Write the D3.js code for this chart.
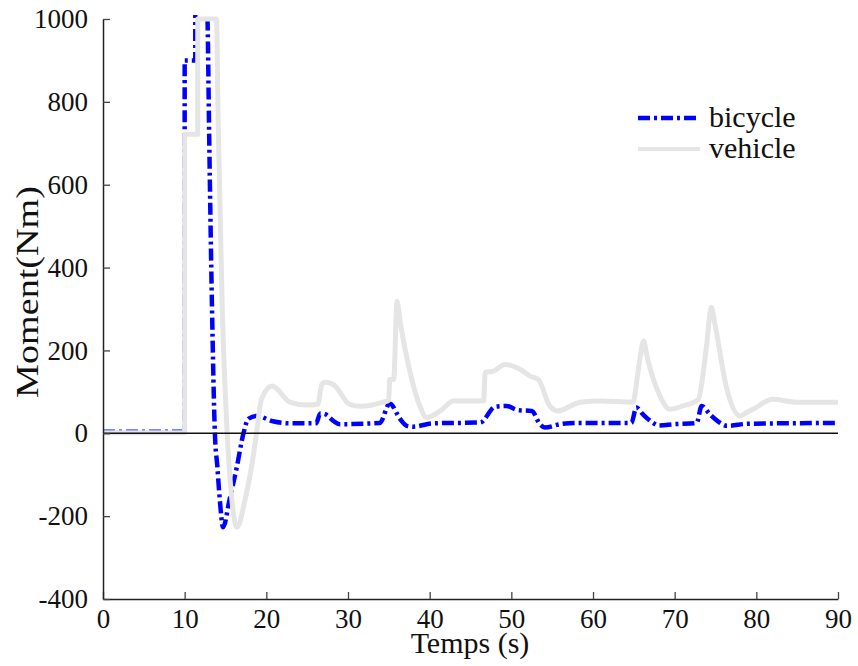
<!DOCTYPE html>
<html>
<head>
<meta charset="utf-8">
<script src="https://cdn.jsdelivr.net/npm/d3@7/dist/d3.min.js"></script>
<style>
  html, body { margin: 0; padding: 0; background: #fff; }
  svg text { font-family: "Liberation Serif", "DejaVu Serif", serif; fill: #111; }
</style>
</head>
<body>
<svg id="chart" width="858" height="666"></svg>
<script>
// ---- data ----
const bicycleT = [0, 10, 10, 11.3, 11.3, 12.6, 12.8, 13.0, 13.35, 13.7, 14.0, 14.3, 14.7, 15.5, 16.4, 17.2, 17.8, 18.8, 20.8, 22.9, 26.1, 26.6, 27.2, 28.2, 29.0, 33.9, 35.1, 36.4, 37.2, 38.0, 40.4, 46.2, 48.0, 49.4, 50.8, 52.5, 53.5, 54.1, 56.0, 58.0, 64.7, 65.3, 66.1, 67.3, 68.0, 70.0, 72.7, 73.3, 74.3, 75.5, 76.4, 79.0, 90];
const bicycleV = [4, 4, 900, 900, 1100, 1100, 1000, 720, 300, 0, -80, -160, -227, -160, -80, 0, 35, 42, 29, 24, 24, 48, 46, 30, 22, 25, 72, 34, 18, 16, 24, 26, 64, 66, 56, 54, 22, 14, 22, 25, 25, 62, 46, 26, 19, 22, 25, 66, 46, 26, 18, 23, 25];

const vehicleT = [0, 10, 10, 11.6, 11.6, 13.9, 14.1, 14.6, 15.2, 15.6, 16.4, 17.4, 18.2, 18.8, 19.4, 20.7, 22.9, 24.9, 26.3, 26.8, 27.2, 28.2, 30.2, 31.5, 34.3, 35.0, 35.1, 35.6, 36.0, 36.4, 37.6, 38.8, 39.6, 41.3, 42.9, 46.6, 46.8, 47.8, 49.2, 51.1, 52.3, 53.3, 54.7, 55.7, 58.4, 60.9, 64.9, 65.5, 65.8, 66.2, 66.6, 68.2, 69.4, 71.0, 72.9, 73.5, 73.9, 74.5, 74.9, 76.4, 78.0, 78.8, 79.6, 82.0, 84.9, 90];
const vehicleV = [1, 1, 722, 722, 1000, 1000, 750, 300, 0, -120, -227, -160, -80, 0, 82, 114, 75, 68, 70, 118, 123, 118, 70, 65, 75, 80, 130, 130, 319, 267, 147, 66, 38, 54, 78, 78, 147, 150, 166, 154, 138, 130, 66, 54, 75, 78, 75, 147, 187, 223, 187, 90, 58, 66, 82, 147, 211, 304, 267, 106, 42, 50, 58, 82, 75, 75];

const xTicks = [0, 10, 20, 30, 40, 50, 60, 70, 80, 90];
const yTicks = [-400, -200, 0, 200, 400, 600, 800, 1000];
const seriesNames = ["bicycle", "vehicle"];
const xLabel = "Temps (s)";
const yLabel = "Moment(Nm)";

// ---- layout ----
const svg = d3.select("#chart");
const mLeft = 103, mRight = 838, mTop = 19, mBottom = 599;

const x = d3.scaleLinear().domain([0, 90]).range([mLeft, mRight]);
const y = d3.scaleLinear().domain([-400, 1000]).range([mBottom, mTop]);

svg.append("defs").append("clipPath").attr("id", "clip")
  .append("rect").attr("x", mLeft).attr("y", mTop - 4).attr("width", mRight - mLeft + 4).attr("height", mBottom - mTop + 4);

const line = d3.line().x(d => x(d[0])).y(d => y(d[1])).curve(d3.curveMonotoneX);
const bData = bicycleT.map((t, i) => [t, bicycleV[i]]);
const vData = vehicleT.map((t, i) => [t, vehicleV[i]]);

const g = svg.append("g").attr("clip-path", "url(#clip)");
g.append("path").datum(bData).attr("d", line)
  .attr("fill", "none").attr("stroke", "#0000ff").attr("stroke-width", 4.5)
  .attr("stroke-dasharray", "12,4,3,4");
g.append("path").datum(vData).attr("d", line)
  .attr("fill", "none").attr("stroke", "#e5e5e5").attr("stroke-width", 5)
  .attr("stroke-linejoin", "round");

// zero line
svg.append("line").attr("x1", mLeft).attr("x2", mRight).attr("y1", y(0)).attr("y2", y(0))
  .attr("stroke", "#111").attr("stroke-width", 1.5);

// axes
const fmt = d => String(d);
const xAxis = svg.append("g").attr("transform", `translate(0,${mBottom})`)
  .call(d3.axisBottom(x).tickValues(xTicks).tickSize(-7).tickSizeOuter(0).tickPadding(10).tickFormat(fmt));
const yAxis = svg.append("g").attr("transform", `translate(${mLeft},0)`)
  .call(d3.axisLeft(y).tickValues(yTicks).tickSize(-7).tickSizeOuter(0).tickPadding(15).tickFormat(fmt));
[xAxis, yAxis].forEach(a => {
  a.selectAll("path.domain").attr("stroke", "#222").attr("stroke-width", 1.5);
  a.selectAll(".tick line").attr("stroke", "#444").attr("stroke-width", 1.3);
  a.selectAll(".tick text").attr("font-size", 27).attr("fill", "#111")
    .style("font-family", "'Liberation Serif', serif");
});

// axis labels
svg.append("text").attr("x", 470).attr("y", 653).attr("text-anchor", "middle")
  .attr("font-size", 30).text(xLabel);
svg.append("text").attr("transform", "translate(38,292) rotate(-90)").attr("text-anchor", "middle")
  .attr("font-size", 32).attr("textLength", 212).attr("lengthAdjust", "spacingAndGlyphs").text(yLabel);

// legend
const legendItems = [
  { name: seriesNames[0], color: "#0000ff", width: 4.5, dash: "12,4,3,4", y: 118 },
  { name: seriesNames[1], color: "#e5e5e5", width: 4, dash: null, y: 149 }
];
legendItems.forEach(it => {
  const l = svg.append("line").attr("x1", 638).attr("x2", 700).attr("y1", it.y).attr("y2", it.y)
    .attr("stroke", it.color).attr("stroke-width", it.width);
  if (it.dash) l.attr("stroke-dasharray", it.dash);
  svg.append("text").attr("x", 709).attr("y", it.y + 9).attr("font-size", 30).text(it.name);
});
</script>
</body>
</html>
